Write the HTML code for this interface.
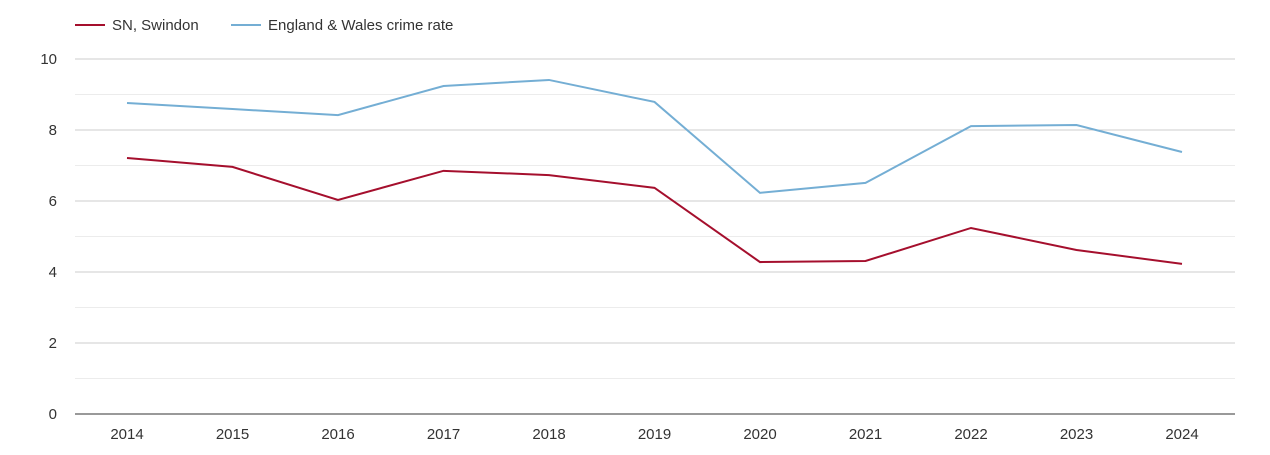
<!DOCTYPE html>
<html><head><meta charset="utf-8"><style>
body{margin:0;background:#fff;font-family:"Liberation Sans",sans-serif}
svg text{font-family:"Liberation Sans",sans-serif;fill:#333;font-size:15px}
</style></head><body>
<svg id="c" width="1270" height="450">
<g>
<g><line x1="75" y1="25" x2="105" y2="25" stroke="#a50f2d" stroke-width="2"/><text x="112" y="30">SN, Swindon</text></g>
<g><line x1="231" y1="25" x2="261" y2="25" stroke="#74aed4" stroke-width="2"/><text x="268" y="30">England &amp; Wales crime rate</text></g>
</g>
<g id="grid"></g>
<g id="yax"></g>
<g id="xax"></g>
<g id="series"></g>
</svg>
<script>
const years=["2014","2015","2016","2017","2018","2019","2020","2021","2022","2023","2024"];
const swindon=[7.21,6.96,6.03,6.85,6.73,6.37,4.28,4.31,5.24,4.62,4.23];
const englandWales=[8.76,8.59,8.42,9.24,9.41,8.79,6.23,6.51,8.11,8.14,7.38];
const yTicks=[0,2,4,6,8,10];
const NS="http://www.w3.org/2000/svg";
const x=i=>127+i*105.5;
const y=v=>414-v*35.5;
function mk(t,a,p){const e=document.createElementNS(NS,t);for(const k in a)e.setAttribute(k,a[k]);p.appendChild(e);return e;}
const grid=document.getElementById('grid'),yax=document.getElementById('yax'),xax=document.getElementById('xax'),ser=document.getElementById('series');
for(let v=1;v<=10;v++){
 const l=mk('line',{x1:75,x2:1235,y1:y(v),y2:y(v),stroke:v%2?'#ececec':'#cccccc'},grid);
 
 
}
yTicks.forEach(v=>{const t=mk('text',{x:57,y:y(v)+5,'text-anchor':'end'},yax);t.textContent=v;
 
 });
const ax=mk('line',{x1:75,x2:1235,y1:414,y2:414,stroke:'#333'},xax);


years.forEach((yr,i)=>{const t=mk('text',{x:x(i),y:439,'text-anchor':'middle'},xax);t.textContent=yr;
 
 });
function line(d,c,n){const p=mk('polyline',{points:d.map((v,i)=>x(i)+','+y(v)).join(' '),fill:'none',stroke:c,'stroke-width':2},ser);
 
 }
line(englandWales,'#74aed4','england-wales-line');
line(swindon,'#a50f2d','swindon-line');
</script>
</body></html>
